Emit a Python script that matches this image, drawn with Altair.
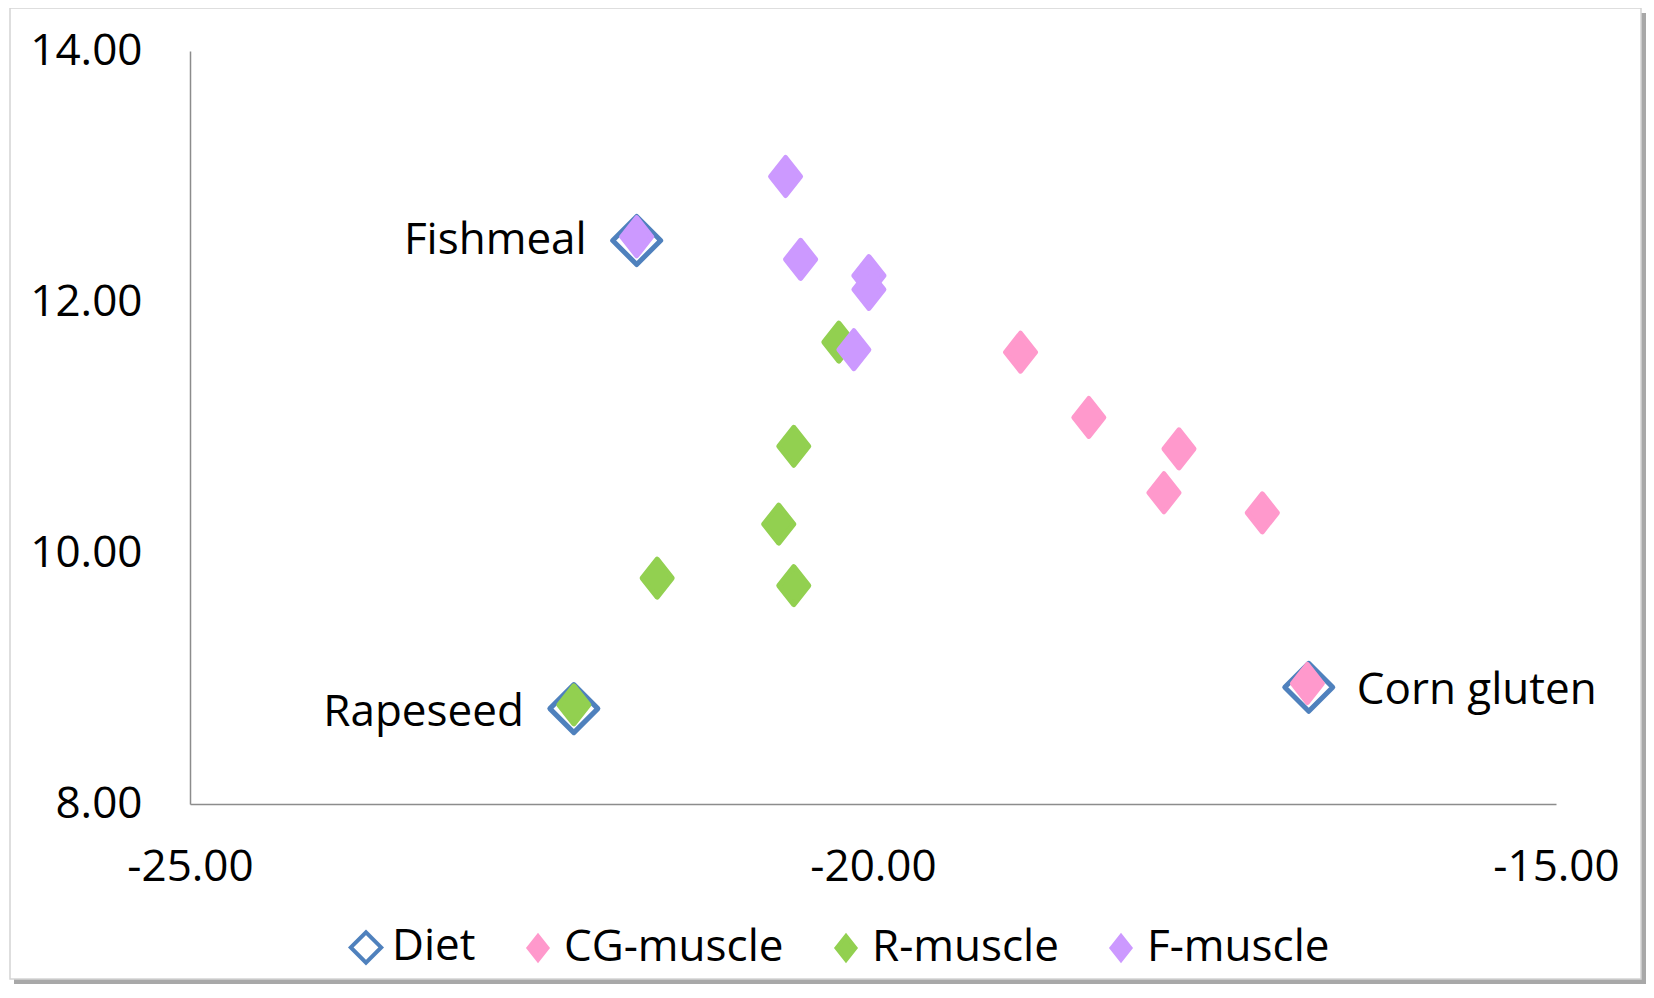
import altair as alt
import pandas as pd

# ---- data ----
series_names = ["Diet", "CG-muscle", "R-muscle", "F-muscle"]

diet_x = [-21.73, -22.19, -16.81]
diet_y = [12.49, 8.76, 8.93]
diet_labels = ["Fishmeal", "Rapeseed", "Corn gluten"]

cg_x = [-16.82, -18.92, -18.42, -17.76, -17.87, -17.15]
cg_y = [8.96, 11.60, 11.08, 10.83, 10.48, 10.32]

r_x = [-22.19, -20.25, -20.58, -20.69, -21.58, -20.58]
r_y = [8.79, 11.68, 10.85, 10.23, 9.80, 9.74]

f_x = [-21.73, -20.64, -20.53, -20.03, -20.03, -20.14]
f_y = [12.52, 13.00, 12.34, 12.21, 12.10, 11.62]

x_ticks = [-25, -20, -15]
y_ticks = [8, 10, 12, 14]

fill_colors = ["#FFFFFF", "#FF99CC", "#92D050", "#CC99FF"]
stroke_colors = ["#4F81BD", "#FF99CC", "#92D050", "#CC99FF"]
shapes = [
    "M-2.4,0L0,-2.4L2.4,0L0,2.4Z",
    "M-1.5,0L0,-1.9L1.5,0L0,1.9Z",
    "M-1.5,0L0,-1.9L1.5,0L0,1.9Z",
    "M-1.5,0L0,-1.9L1.5,0L0,1.9Z",
]

FONT = "Open Sans"
FS = 44

rows = []
for xs, ys, name in [(diet_x, diet_y, "Diet"), (cg_x, cg_y, "CG-muscle"),
                     (r_x, r_y, "R-muscle"), (f_x, f_y, "F-muscle")]:
    for a, b in zip(xs, ys):
        rows.append({"x": a, "y": b, "series": name, "order": len(rows)})
pts = pd.DataFrame(rows)

lab = pd.DataFrame({"x": diet_x, "y": diet_y, "label": diet_labels})

W, H = 1366, 753

xscale = alt.Scale(domain=[-25, -15], nice=False, zero=False)
yscale = alt.Scale(domain=[8, 14], nice=False, zero=False)

label_expr = "(datum.value < 0 ? '-' : '') + format(abs(datum.value), '.2f')"

xaxis = alt.Axis(values=x_ticks, labelExpr=label_expr, grid=False, ticks=False,
                 domainColor="#8C8C8C", domainWidth=1.5, labelFont=FONT,
                 labelFontSize=FS, labelColor="#000000", labelPadding=41,
                 title=None, labelFlush=False, zindex=2)
yaxis = alt.Axis(values=y_ticks, labelExpr=label_expr, grid=False, ticks=False,
                 domainColor="#8C8C8C", domainWidth=1.5, labelFont=FONT,
                 labelFontSize=FS, labelColor="#000000", labelPadding=48,
                 title=None, labelFlush=False, zindex=2)

legend = alt.Legend(orient="none", legendX=154, legendY=874, direction="horizontal",
                    title=None, labelFont=FONT, labelFontSize=FS, labelColor="#000000",
                    symbolSize=160, symbolStrokeWidth=4, labelOffset=4,
                    columnPadding=40, labelLimit=0, symbolOpacity=1, zindex=2)

one = pd.DataFrame({"a": [0]})
shadow = alt.Chart(one).mark_rect(fill="#A8A8A8").encode(
    x=alt.value(-176), x2=alt.value(1456), y=alt.value(-38), y2=alt.value(933))
frame = alt.Chart(one).mark_rect(fill="white", stroke="#D4D4D4", strokeWidth=1.5).encode(
    x=alt.value(-180), x2=alt.value(1451), y=alt.value(-43), y2=alt.value(928))

points = alt.Chart(pts).mark_point(filled=True, opacity=1, size=400, strokeWidth=5,
                                   strokeJoin="round").encode(
    x=alt.X("x:Q", scale=xscale, axis=xaxis),
    y=alt.Y("y:Q", scale=yscale, axis=yaxis),
    fill=alt.Fill("series:N", scale=alt.Scale(domain=series_names, range=fill_colors), legend=legend),
    stroke=alt.Stroke("series:N", scale=alt.Scale(domain=series_names, range=stroke_colors), legend=legend),
    shape=alt.Shape("series:N", scale=alt.Scale(domain=series_names, range=shapes), legend=legend),
    order=alt.Order("order:Q"),
)

def label_layer(name, align, dx, dy):
    return alt.Chart(lab).transform_filter(alt.datum.label == name).mark_text(
        align=align, baseline="middle", dx=dx, dy=dy, font=FONT, fontSize=FS,
        color="#000000").encode(
        x=alt.X("x:Q", scale=xscale), y=alt.Y("y:Q", scale=yscale), text="label:N")

t1 = label_layer("Fishmeal", "right", -50, 0)
t2 = label_layer("Rapeseed", "right", -50, 4)
t3 = label_layer("Corn gluten", "left", 48, 4)

chart = alt.layer(shadow, frame, points, t1, t2, t3).properties(
    width=W, height=H,
    padding={"left": 182, "top": 43, "right": 90, "bottom": 180},
    autosize=alt.AutoSizeParams(type="none"),
    background="white",
).configure_view(stroke=None)

chart.save("out.html", embed_options={"renderer": "svg", "actions": False})
